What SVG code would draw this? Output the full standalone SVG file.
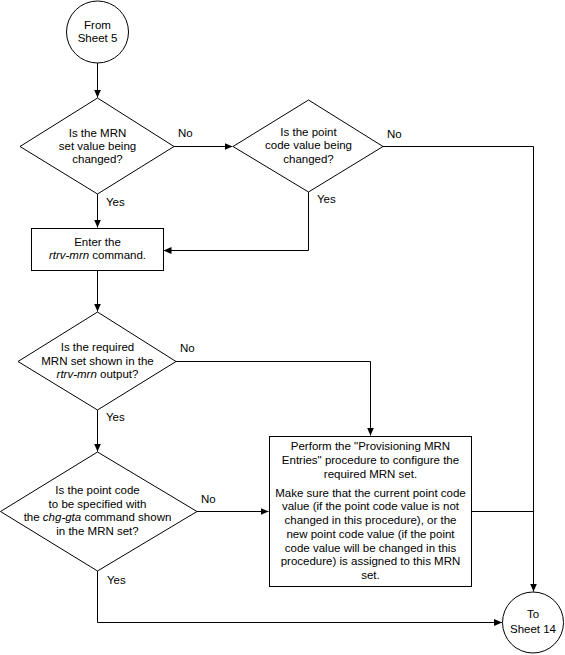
<svg xmlns="http://www.w3.org/2000/svg" width="565" height="655" viewBox="0 0 565 655">
<style>
.shape{fill:#fff;stroke:#000;stroke-width:1}
.c{fill:none;stroke:#000;stroke-width:1}
text{font-family:"Liberation Sans",Arial,sans-serif;font-size:11.5px;fill:#000}
.m{text-anchor:middle}
.i{font-style:italic}
</style>
<defs>
<marker id="arr" markerUnits="userSpaceOnUse" markerWidth="9" markerHeight="8" refX="8" refY="3.5" orient="auto">
<path d="M0,0 L8,3.5 L0,7 z" fill="#000"/>
</marker>
</defs>
<rect width="565" height="655" fill="#fff"/>
<g id="connectors">
<path class="c" d="M97.5,63 V97.5" marker-end="url(#arr)"/>
<path class="c" d="M174,146.5 H232.5" marker-end="url(#arr)"/>
<path class="c" d="M97.5,194 V227.5" marker-end="url(#arr)"/>
<path class="c" d="M308.5,192 V250.5 H163.5" marker-end="url(#arr)"/>
<path class="c" d="M383,146.5 H533.5 V591.5" marker-end="url(#arr)"/>
<path class="c" d="M97.5,270 V311.5" marker-end="url(#arr)"/>
<path class="c" d="M176,361.5 H370.5 V435.5" marker-end="url(#arr)"/>
<path class="c" d="M97.5,410 V451.5" marker-end="url(#arr)"/>
<path class="c" d="M197,511.5 H268.5" marker-end="url(#arr)"/>
<path class="c" d="M471,511.5 H533.5"/>
<path class="c" d="M97.5,571 V622.5 H502" marker-end="url(#arr)"/>
<text x="178" y="137">No</text>
<text x="387" y="138">No</text>
<text x="106" y="206">Yes</text>
<text x="317" y="203">Yes</text>
<text x="180" y="352">No</text>
<text x="106" y="421">Yes</text>
<text x="201" y="503">No</text>
<text x="107" y="584">Yes</text>
</g>
<g id="from-sheet5">
<circle class="shape" cx="97.5" cy="32" r="31"/>
<text class="m" x="97.5" y="29">From</text>
<text class="m" x="97.5" y="42">Sheet 5</text>
</g>
<g id="q-mrn-set">
<polygon class="shape" points="97.5,98 174,146.5 97.5,194 20,146.5"/>
<text class="m" x="97.5" y="137">Is the MRN</text>
<text class="m" x="97.5" y="150">set value being</text>
<text class="m" x="97.5" y="163">changed?</text>
</g>
<g id="q-point-code">
<polygon class="shape" points="308.5,100 383,146.5 308.5,192 233,146.5"/>
<text class="m" x="308.5" y="136">Is the point</text>
<text class="m" x="308.5" y="149">code value being</text>
<text class="m" x="308.5" y="163">changed?</text>
</g>
<g id="enter-rtrv-mrn">
<rect class="shape" x="31.5" y="228.5" width="132" height="42"/>
<text class="m" x="97.5" y="246">Enter the</text>
<text class="m" x="97.5" y="259"><tspan class="i">rtrv-mrn</tspan> command.</text>
</g>
<g id="q-mrn-shown">
<polygon class="shape" points="97.5,312 176,361.5 97.5,410 18,361.5"/>
<text class="m" x="97.5" y="351">Is the required</text>
<text class="m" x="97.5" y="365">MRN set shown in the</text>
<text class="m" x="97.5" y="378"><tspan class="i">rtrv-mrn</tspan> output?</text>
</g>
<g id="q-pc-in-set">
<polygon class="shape" points="97.5,452 197,511.5 97.5,571 0.5,511.5"/>
<text class="m" x="97.5" y="494">Is the point code</text>
<text class="m" x="97.5" y="507.5">to be specified with</text>
<text class="m" x="97.5" y="521">the <tspan class="i">chg-gta</tspan> command shown</text>
<text class="m" x="97.5" y="535">in the MRN set?</text>
</g>
<g id="provision-mrn">
<rect class="shape" x="269.5" y="436.5" width="202" height="150"/>
<text class="m" x="370.5" y="450">Perform the "Provisioning MRN</text>
<text class="m" x="370.5" y="463.5">Entries" procedure to configure the</text>
<text class="m" x="370.5" y="477.5">required MRN set.</text>
<text class="m" x="370.5" y="496.5">Make sure that the current point code</text>
<text class="m" x="370.5" y="510">value (if the point code value is not</text>
<text class="m" x="370.5" y="523.5">changed in this procedure), or the</text>
<text class="m" x="370.5" y="537.5">new point code value (if the point</text>
<text class="m" x="370.5" y="551.5">code value will be changed in this</text>
<text class="m" x="370.5" y="565">procedure) is assigned to this MRN</text>
<text class="m" x="370.5" y="578.5">set.</text>
</g>
<g id="to-sheet14">
<circle class="shape" cx="533" cy="622.5" r="30.5"/>
<text class="m" x="533" y="618">To</text>
<text class="m" x="533" y="633">Sheet 14</text>
</g>
</svg>
